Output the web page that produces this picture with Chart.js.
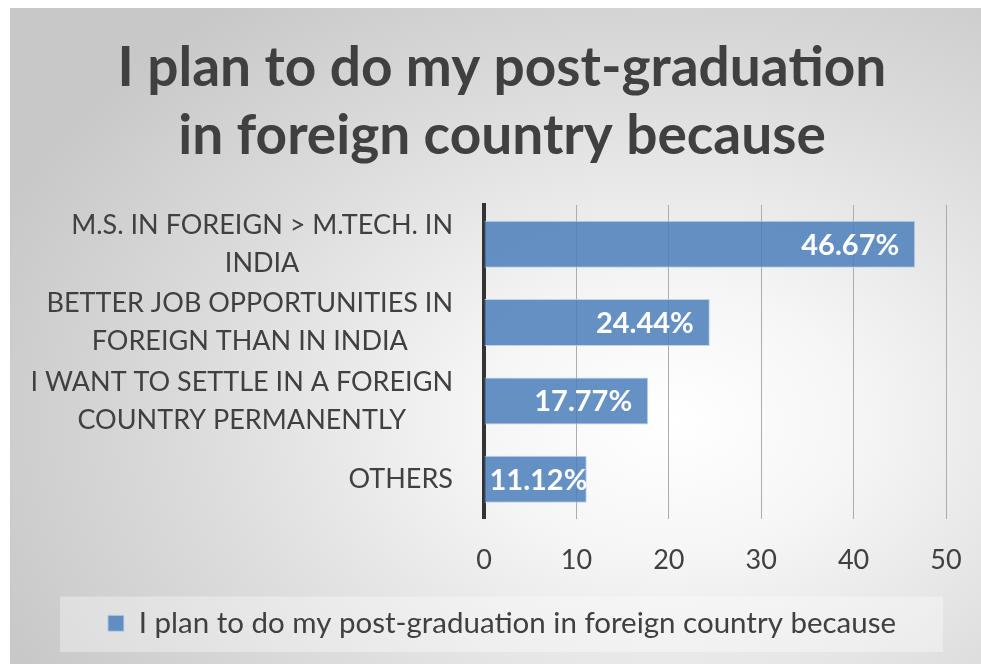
<!DOCTYPE html>
<html>
<head>
<meta charset="utf-8">
<script src="https://cdn.jsdelivr.net/npm/chart.js@4/dist/chart.umd.min.js"></script>
<style>
  html, body { margin: 0; padding: 0; background: #ffffff; width: 981px; height: 665px; overflow: hidden; }
  #frame {
    position: absolute; left: 10px; top: 8px; width: 971px; height: 656px;
    background: radial-gradient(ellipse 75% 80% at 68% 63%, #ffffff 0%, #f6f6f6 25%, #dcdcdc 65%, #c8c8c8 100%);
  }
  canvas { display: block; }
</style>
</head>
<body>
<div id="frame"><canvas id="c" width="971" height="656"></canvas></div>
<script>
// ---- data ----
const chartTitle = ['I plan to do my post-graduation', 'in foreign country because'];
const seriesName = 'I plan to do my post-graduation in foreign country because';
const categories = [
  ['M.S. IN FOREIGN > M.TECH. IN', 'INDIA'],
  ['BETTER JOB OPPORTUNITIES IN', 'FOREIGN THAN IN INDIA'],
  ['I WANT TO SETTLE IN A FOREIGN', 'COUNTRY PERMANENTLY'],
  ['OTHERS']
];
const values = [46.67, 24.44, 17.77, 11.12];
const xTicks = [0, 10, 20, 30, 40, 50];

// ---- style ----
const textColor = '#404040';
const barColor = 'rgba(74,126,187,0.85)';
const barBorder = 'rgba(190,208,232,0.95)';
const fontFamily = 'Lato, "Open Sans", sans-serif';

const categoryLabelPlugin = {
  id: 'categoryLabels',
  afterDraw(chart) {
    const ctx = chart.ctx;
    const yScale = chart.scales.y;
    const right = chart.chartArea.left - 31;
    const lineH = 38;
    ctx.save();
    ctx.font = '27px ' + fontFamily;
    ctx.fillStyle = textColor;
    ctx.textAlign = 'center';
    ctx.textBaseline = 'middle';
    categories.forEach((lines, i) => {
      const arr = Array.isArray(lines) ? lines : [lines];
      const w = Math.max(...arr.map(l => ctx.measureText(l).width));
      const cx = right - w / 2;
      const cy = yScale.getPixelForTick(i);
      arr.forEach((l, j) => {
        ctx.fillText(l, cx, cy + (j - (arr.length - 1) / 2) * lineH);
      });
    });
    ctx.restore();
  }
};

const valueLabelPlugin = {
  id: 'valueLabels',
  afterDatasetsDraw(chart) {
    const ctx = chart.ctx;
    const meta = chart.getDatasetMeta(0);
    ctx.save();
    ctx.font = 'bold 29px ' + fontFamily;
    ctx.fillStyle = '#ffffff';
    ctx.textAlign = 'left';
    ctx.textBaseline = 'middle';
    meta.data.forEach((bar, i) => {
      const txt = values[i].toFixed(2) + '%';
      const w = ctx.measureText(txt).width;
      const minLeft = bar.base + 5;
      const left = Math.max(bar.x - 16 - w, minLeft);
      ctx.fillText(txt, left, bar.y + 1);
    });
    ctx.restore();
  }
};

const legendBoxPlugin = {
  id: 'legendBox',
  beforeDraw(chart) {
    const lg = chart.legend;
    if (!lg) return;
    const ctx = chart.ctx;
    ctx.save();
    ctx.fillStyle = 'rgba(255,255,255,0.35)';
    ctx.fillRect(lg.left + 2, lg.top - 4, 883, lg.height + 8);
    ctx.restore();
  }
};

new Chart(document.getElementById('c'), {
  type: 'bar',
  data: {
    labels: categories,
    datasets: [{
      label: seriesName,
      data: values,
      backgroundColor: barColor,
      borderColor: barBorder,
      borderWidth: 1,
      barPercentage: 0.6,
      categoryPercentage: 1.0
    }]
  },
  options: {
    indexAxis: 'y',
    responsive: false,
    animation: false,
    devicePixelRatio: 1,
    layout: { padding: { left: 48, right: 35, top: 0, bottom: 16 } },
    scales: {
      x: {
        min: 0, max: 50,
        afterBuildTicks(scale) { scale.ticks = xTicks.map(v => ({ value: v })); },
        afterFit(scale) { scale.height = 82; },
        grid: { color: '#acacac', lineWidth: 1, drawTicks: true, tickLength: 26, tickColor: 'rgba(0,0,0,0)' },
        border: { display: false },
        ticks: { color: textColor, font: { family: fontFamily, size: 27 }, padding: 0, maxRotation: 0 }
      },
      y: {
        afterFit(scale) { scale.width = 426; },
        grid: { display: false, drawTicks: false },
        border: { display: true, color: '#333333', width: 4 },
        ticks: { display: false }
      }
    },
    plugins: {
      title: {
        display: true,
        text: chartTitle,
        color: textColor,
        font: { family: fontFamily, size: 55, weight: 'bold', lineHeight: 1.236 },
        padding: { top: 26, bottom: 35 }
      },
      legend: {
        position: 'bottom',
        labels: {
          color: textColor,
          font: { family: fontFamily, size: 29.5 },
          boxWidth: 16, boxHeight: 16,
          padding: 8
        }
      },
      tooltip: { enabled: false }
    }
  },
  plugins: [legendBoxPlugin, categoryLabelPlugin, valueLabelPlugin]
});
</script>
</body>
</html>
